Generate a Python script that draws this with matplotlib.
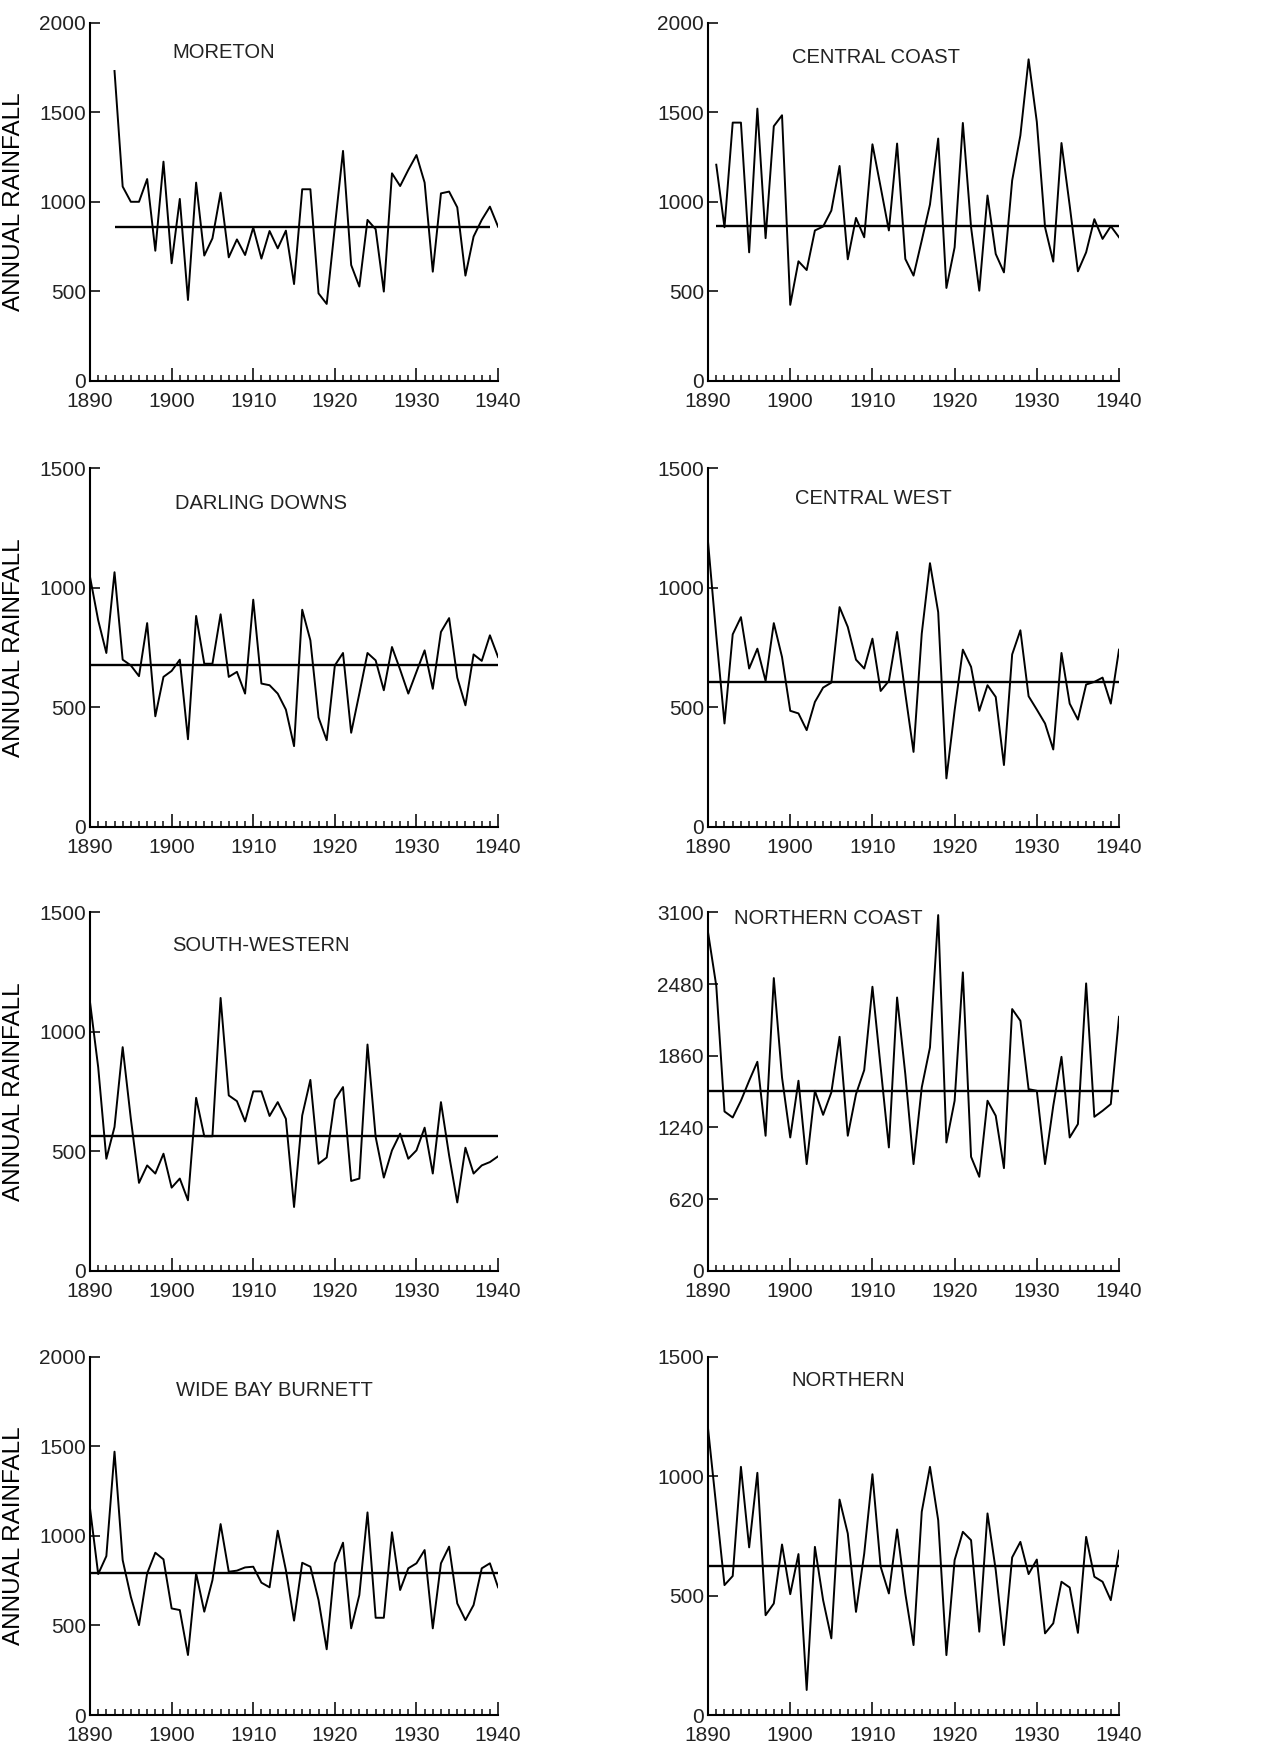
import matplotlib.pyplot as plt
from matplotlib.ticker import MultipleLocator, FixedLocator

plt.rcParams.update({"font.family": ["Liberation Sans", "DejaVu Sans"], "font.size": 14,
                     "text.color": "#222222", "xtick.color": "#222222", "ytick.color": "#222222"})

# annual rainfall, one list per district
moreton_start = 1893
moreton = [1730, 1085, 1000, 1000, 1127, 727, 1224, 657, 1016, 452,
           1107, 700, 796, 1051, 690, 790, 703, 856, 683, 837,
           740, 839, 541, 1070, 1070, 489, 430, 860, 1284, 647,
           527, 899, 847, 499, 1159, 1088, 1178, 1261, 1107, 610,
           1047, 1057, 969, 588, 806, 899, 973, 861]
central_coast_start = 1891
central_coast = [1207, 858, 1442, 1442, 718, 1520, 797, 1422, 1483, 425,
                 668, 619, 840, 862, 951, 1200, 679, 910, 802, 1321,
                 1082, 840, 1325, 681, 588, 784, 985, 1353, 519, 746,
                 1440, 858, 504, 1035, 709, 606, 1119, 1371, 1795, 1446,
                 858, 666, 1328, 979, 612, 718, 903, 793, 864, 802]
darling_downs = [1045, 864, 727, 1065, 699, 675, 630, 852, 462, 627,
                 652, 699, 366, 882, 682, 682, 889, 627, 648, 557,
                 950, 599, 592, 557, 490, 337, 908, 780, 457, 362,
                 675, 727, 393, 557, 727, 696, 571, 752, 657, 557,
                 648, 738, 577, 815, 873, 624, 508, 721, 694, 801, 710]
central_west = [1191, 800, 432, 805, 877, 662, 745, 610, 852, 710,
                485, 474, 404, 522, 582, 603, 919, 836, 699, 662,
                787, 568, 610, 815, 557, 313, 808, 1103, 898, 202,
                487, 741, 669, 485, 592, 543, 258, 721, 822, 546,
                490, 432, 323, 727, 515, 448, 595, 606, 624, 515, 741]
south_western = [1124, 852, 469, 602, 936, 636, 368, 441, 407, 490,
                 348, 386, 295, 724, 563, 563, 1142, 734, 710, 625,
                 751, 751, 648, 706, 636, 267, 650, 799, 448, 474,
                 716, 769, 376, 386, 947, 560, 390, 504, 574, 469,
                 504, 599, 407, 706, 483, 286, 515, 407, 441, 455, 479]
northern_coast = [2927, 2465, 1378, 1326, 1471, 1644, 1808, 1168, 2532, 1672,
                  1153, 1644, 923, 1557, 1349, 1543, 2024, 1168, 1528, 1736,
                  2457, 1760, 1067, 2364, 1701, 923, 1586, 1932, 3077, 1110,
                  1471, 2581, 986, 813, 1471, 1341, 888, 2264, 2163, 1571,
                  1557, 923, 1427, 1851, 1153, 1269, 2486, 1332, 1384, 1442, 2197]
wide_bay_burnett = [1153, 787, 887, 1470, 865, 660, 502, 791, 906, 869,
                    595, 586, 335, 791, 577, 753, 1066, 800, 806, 824,
                    828, 739, 713, 1029, 809, 527, 850, 828, 642, 367,
                    847, 962, 484, 670, 1131, 543, 543, 1020, 698, 819,
                    847, 921, 484, 847, 940, 623, 530, 614, 819, 847, 713]
northern = [1199, 872, 544, 582, 1039, 702, 1014, 418, 467, 714,
            506, 674, 105, 704, 481, 321, 902, 760, 432, 676,
            1008, 621, 509, 777, 509, 293, 851, 1039, 816, 251,
            649, 767, 732, 349, 844, 607, 293, 660, 725, 590,
            651, 342, 384, 558, 534, 344, 746, 579, 558, 481, 688]

names = ["MORETON", "CENTRAL COAST", "DARLING DOWNS", "CENTRAL WEST",
         "SOUTH-WESTERN", "NORTHERN COAST", "WIDE BAY BURNETT", "NORTHERN"]
series = [moreton, central_coast, darling_downs, central_west,
          south_western, northern_coast, wide_bay_burnett, northern]
starts = [moreton_start, central_coast_start, 1890, 1890, 1890, 1890, 1890, 1890]
means = [861, 864, 675, 606, 563, 1551, 794, 623]
mean_end = [1939, 1940, 1940, 1940, 1940, 1940, 1940, 1940]
yticks = [[0, 500, 1000, 1500, 2000], [0, 500, 1000, 1500, 2000],
          [0, 500, 1000, 1500], [0, 500, 1000, 1500],
          [0, 500, 1000, 1500], [0, 620, 1240, 1860, 2480, 3100],
          [0, 500, 1000, 1500, 2000], [0, 500, 1000, 1500]]

# layout (figure fractions)
col_x = [0.0710, 0.5584]
col_w = [0.3218, 0.3241]
row_b = [0.7828, 0.5287, 0.2755, 0.0222]
row_h = 0.2043
title_pos = [(0.203, 0.918), (0.204, 0.904), (0.208, 0.902), (0.212, 0.916),
             (0.201, 0.907), (0.063, 0.982), (0.211, 0.907), (0.202, 0.935)]

fig = plt.figure(figsize=(12.68, 17.54), dpi=100)
for i, (name, vals) in enumerate(zip(names, series)):
    r, c = divmod(i, 2)
    ax = fig.add_axes([col_x[c], row_b[r], col_w[c], row_h])
    yrs = list(range(starts[i], starts[i] + len(vals)))
    ax.plot(yrs, vals, color="black", lw=1.4)
    ax.hlines(means[i], starts[i], mean_end[i], color="black", lw=1.7)
    ax.set_xlim(1890, 1940)
    ax.set_ylim(0, yticks[i][-1])
    ax.xaxis.set_major_locator(FixedLocator(range(1890, 1941, 10)))
    ax.xaxis.set_minor_locator(MultipleLocator(1))
    ax.yaxis.set_major_locator(FixedLocator(yticks[i]))
    ax.tick_params(axis="x", which="major", direction="in", length=9.5, width=1.3, pad=8, labelsize=15)
    ax.tick_params(axis="x", which="minor", direction="in", length=4.3, width=1.2)
    ax.tick_params(axis="y", which="major", direction="in", length=7, width=1.3, pad=3, labelsize=15)
    for s in ("top", "right"):
        ax.spines[s].set_visible(False)
    for s in ("left", "bottom"):
        ax.spines[s].set_linewidth(1.5)
    ax.text(*title_pos[i], name, transform=ax.transAxes, ha="left", va="center", fontsize=14.5)
    if c == 0:
        ax.set_ylabel("ANNUAL RAINFALL", fontsize=17.5)
        ax.yaxis.set_label_coords(-0.16, 0.5)

fig.savefig("out.png", dpi=100)
